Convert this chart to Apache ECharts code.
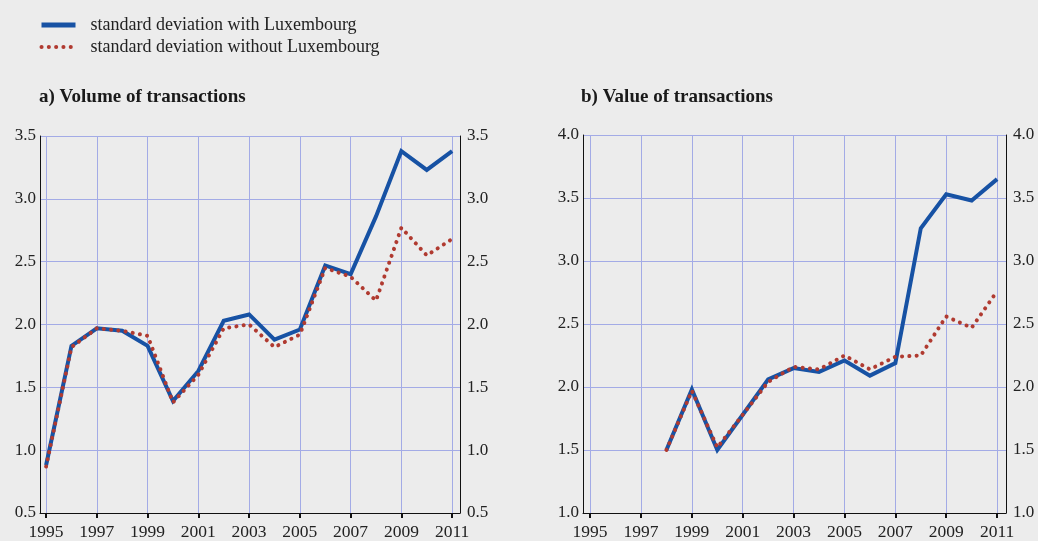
<!DOCTYPE html>
<html>
<head>
<meta charset="utf-8">
<script src="https://cdn.jsdelivr.net/npm/echarts@6/dist/echarts.min.js"></script>
<style>
	html, body { margin: 0; padding: 0; background: #ececec; }
	#chart { width: 1038px; height: 541px; }
</style>
</head>
<body>
<div id="chart"></div>
<script type="text/javascript">
	// years shown on both x axes
	var yearTicks = [1995, 1997, 1999, 2001, 2003, 2005, 2007, 2009, 2011];

	// a) Volume of transactions, 1995-2011
	var volYears = [1995, 1996, 1997, 1998, 1999, 2000, 2001, 2002, 2003, 2004, 2005, 2006, 2007, 2008, 2009, 2010, 2011];
	var volWith = [0.88, 1.83, 1.97, 1.95, 1.83, 1.39, 1.63, 2.03, 2.08, 1.88, 1.96, 2.47, 2.40, 2.86, 3.38, 3.23, 3.38];
	var volWithout = [0.87, 1.82, 1.97, 1.95, 1.91, 1.38, 1.60, 1.97, 2.00, 1.82, 1.92, 2.45, 2.38, 2.19, 2.77, 2.55, 2.68];

	// b) Value of transactions, 1998-2011
	var valYears = [1998, 1999, 2000, 2001, 2002, 2003, 2004, 2005, 2006, 2007, 2008, 2009, 2010, 2011];
	var valWith = [1.50, 1.98, 1.50, 1.78, 2.06, 2.15, 2.12, 2.21, 2.09, 2.19, 3.26, 3.53, 3.48, 3.65];
	var valWithout = [1.50, 1.97, 1.52, 1.78, 2.04, 2.16, 2.14, 2.25, 2.14, 2.24, 2.25, 2.56, 2.47, 2.76];

	var nameWith = 'standard deviation with Luxembourg';
	var nameWithout = 'standard deviation without Luxembourg';

	function pairs(xs, ys) {
		var out = [];
		for (var i = 0; i < xs.length; i++) out.push([xs[i], ys[i]]);
		return out;
	}

	var font = '"Liberation Serif", "DejaVu Serif", serif';
	var gridColor = '#a3abe6';
	var blue = '#1752a4';
	var red = '#b03a30';

	function xAxisFor(idx, min, max) {
		return {
			type: 'value', gridIndex: idx, min: min, max: max,
			axisLine: { show: true, onZero: false, lineStyle: { color: '#111', width: 1 } },
			axisTick: { show: true, length: 5, inside: false, customValues: yearTicks, lineStyle: { color: '#111', width: 2 } },
			axisLabel: {
				customValues: yearTicks, color: '#222', fontFamily: font, fontSize: 17.5, margin: 10,
				formatter: function (v) { return String(v); }
			},
			splitLine: { show: true, lineStyle: { color: gridColor, width: 1 } }
		};
	}

	function yAxisFor(idx, pos, min, max, grid) {
		return {
			type: 'value', gridIndex: idx, position: pos, min: min, max: max, interval: 0.5,
			axisLine: { show: true, lineStyle: { color: '#111', width: 1 } },
			axisTick: { show: false },
			axisLabel: {
				color: '#222', fontFamily: font, fontSize: 17,
				margin: pos === 'left' ? 4 : 7,
				formatter: function (v) { return v.toFixed(1); }
			},
			splitLine: { show: grid, lineStyle: { color: gridColor, width: 1 } }
		};
	}

	function lineSeries(name, xi, yi, data, dotted) {
		return {
			name: name, type: 'line', xAxisIndex: xi, yAxisIndex: yi,
			data: data, symbol: 'none', silent: true, animation: false,
			lineStyle: dotted
				? { color: red, width: 4, type: [0.1, 7.2], cap: 'round' }
				: { color: blue, width: 4, join: 'miter' },
			itemStyle: { color: dotted ? red : blue },
			z: dotted ? 3 : 2
		};
	}

	var myChart = echarts.init(document.getElementById('chart'));
	var option = {
		backgroundColor: '#ececec',
		animation: false,
		textStyle: { fontFamily: font },
		legend: {
			orient: 'vertical', left: 39, top: 16, padding: 0,
			itemWidth: 34, itemHeight: 14, itemGap: 4,
			data: [
				{ name: nameWith, lineStyle: { width: 5, type: 'solid' } },
				{ name: nameWithout, lineStyle: { width: 4, type: [0.1, 7.2], cap: 'round' } }
			],
			itemStyle: { opacity: 0 },
			lineStyle: { width: 'inherit' },
			textStyle: { fontFamily: font, fontSize: 18, lineHeight: 18, color: '#222', padding: [0, 0, 0, 10] },
			selectedMode: false
		},
		title: [
			{ text: 'a) Volume of transactions', left: 39, top: 88, padding: 0,
				textStyle: { fontFamily: font, fontSize: 19, fontWeight: 'bold', color: '#1a1a1a' } },
			{ text: 'b) Value of transactions', left: 581, top: 88, padding: 0,
				textStyle: { fontFamily: font, fontSize: 19, fontWeight: 'bold', color: '#1a1a1a' } }
		],
		grid: [
			{ left: 40, top: 136, width: 420, height: 379 },
			{ left: 583, top: 135, width: 423, height: 379 }
		],
		xAxis: [
			xAxisFor(0, 1994.76, 2011.31),
			xAxisFor(1, 1994.72, 2011.35)
		],
		yAxis: [
			yAxisFor(0, 'left', 0.5, 3.5, true),
			yAxisFor(0, 'right', 0.5, 3.5, false),
			yAxisFor(1, 'left', 1.0, 4.0, true),
			yAxisFor(1, 'right', 1.0, 4.0, false)
		],
		series: [
			lineSeries(nameWith, 0, 0, pairs(volYears, volWith), false),
			lineSeries(nameWithout, 0, 0, pairs(volYears, volWithout), true),
			lineSeries(nameWith, 1, 2, pairs(valYears, valWith), false),
			lineSeries(nameWithout, 1, 2, pairs(valYears, valWithout), true)
		]
	};
	myChart.setOption(option);
</script>
</body>
</html>
